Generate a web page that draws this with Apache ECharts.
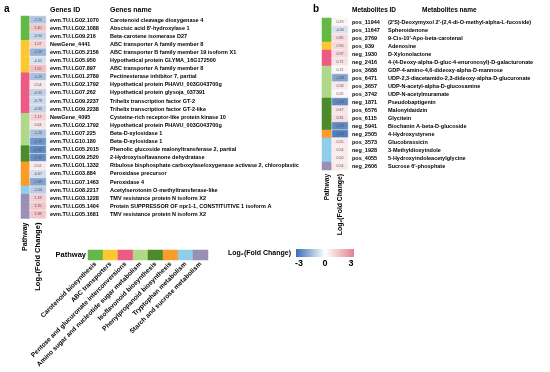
<!DOCTYPE html>
<html><head><meta charset="utf-8">
<script src="https://cdn.jsdelivr.net/npm/echarts@6/dist/echarts.min.js"></script>
<style>html,body{margin:0;padding:0;background:#fff}#c{width:550px;height:372px}</style>
</head><body><div id="c"></div>
<script>
// ---------- data ----------
const pathwayNames = ['Carotenoid biosynthesis','ABC transporters','Pentose and glucuronate interconversions','Amino sugar and nucleotide sugar metabolism','Isoflavonoid biosynthesis','Phenylpropanoid biosynthesis','Tryptophan metabolism','Starch and sucrose metabolism'];
const geneIDs = ['evm.TU.LG02.1070','evm.TU.LG02.1088','evm.TU.LG09.216','NewGene_4441','evm.TU.LG05.2156','evm.TU.LG05.950','evm.TU.LG07.897','evm.TU.LG01.2789','evm.TU.LG02.1792','evm.TU.LG07.262','evm.TU.LG09.2237','evm.TU.LG09.2238','NewGene_4095','evm.TU.LG02.1792','evm.TU.LG07.225','evm.TU.LG10.180','evm.TU.LG05.2015','evm.TU.LG09.2520','evm.TU.LG01.1332','evm.TU.LG03.884','evm.TU.LG07.1463','evm.TU.LG08.2217','evm.TU.LG03.1228','evm.TU.LG05.1404','evm.TU.LG05.1681'];
const geneNames = ['Carotenoid cleavage dioxygenase 4','Abscisic acid 8\'-hydroxylase 1','Beta-carotene isomerase D27','ABC transporter A family member 8','ABC transporter B family member 19 isoform X1','Hypothetical protein GLYMA_16G172500','ABC transporter A family member 8','Pectinesterase inhibitor 7, partial','Hypothetical protein PHAVU_003G043700g','Hypothetical protein glysoja_037391','Trihelix transcription factor GT-2','Trihelix transcription factor GT-2-like','Cysteine-rich receptor-like protein kinase 10','Hypothetical protein PHAVU_003G043700g','Beta-D-xylosidase 1','Beta-D-xylosidase 1','Phenolic glucoside malonyltransferase 2, partial','2-Hydroxyisoflavanone dehydratase','Ribulose bisphosphate carboxylase/oxygenase activase 2, chloroplastic','Peroxidase precursor','Peroxidase 4','Acetylserotonin O-methyltransferase-like','TMV resistance protein N isoform X2','Protein SUPPRESSOR OF npr1-1, CONSTITUTIVE 1 isoform A','TMV resistance protein N isoform X2'];
const genePathway = [0,0,0,1,1,1,1,2,2,2,2,2,3,3,3,3,4,4,5,5,5,6,7,7,7];
const geneFC = [-1.20,1.40,-0.90,1.07,-1.59,-0.62,1.55,-1.29,0.54,-0.95,-0.78,-0.86,1.12,0.64,-1.26,-2.19,-2.43,-2.33,0.52,-0.67,-1.89,-1.04,1.18,1.35,1.38];

const metIDs = ['pos_11944','pos_11647','pos_2769','pos_939','neg_1930','neg_2416','pos_3688','pos_6471','pos_3657','pos_3742','neg_1871','pos_6576','pos_6115','neg_5941','neg_2505','pos_3573','neg_1928','pos_4055','neg_2606'];
const metNames = ['(2\'S)-Deoxymyxol 2\'-(2,4-di-O-methyl-alpha-L-fucoside)','Spheroidenone','9-Cis-10\'-Apo-beta-carotenal','Adenosine','D-Xylonolactone','4-(4-Deoxy-alpha-D-gluc-4-enuronosyl)-D-galacturonate','GDP-4-amino-4,6-dideoxy-alpha-D-mannose','UDP-2,3-diacetamido-2,3-dideoxy-alpha-D-glucuronate','UDP-N-acetyl-alpha-D-glucosamine','UDP-N-acetylmuramate','Pseudobaptigenin','Malonyldaidzin','Glycitein','Biochanin A-beta-D-glucoside','4-Hydroxystyrene','Glucobrassicin','3-Methyldioxyindole','5-Hydroxyindoleacetylglycine','Sucrose 6\'-phosphate'];
const metPathway = [0,0,0,1,2,2,3,3,3,3,4,4,4,4,5,6,6,6,7];
const metFC = [0.29,-0.60,0.85,0.90,0.97,0.71,0.21,-1.88,0.58,0.25,-2.44,0.67,0.81,-2.42,-2.66,0.55,0.54,0.50,0.54];
const fcTicks = [-3,0,3];

// ---------- styles ----------
const pathwayColors = ['#62b946','#fdc82f','#ec5b84','#afd88a','#4b8b2b','#f99d2a','#8fcdea','#9a8fb6'];
const fcColors = ['#3a6db4','#ffffff','#e3838e'];
const FONT = '"Liberation Sans", Arial, Helvetica, sans-serif';

const chart = echarts.init(document.getElementById('c'), null, {renderer:'canvas'});
const hidden = {axisLine:{show:false}, axisTick:{show:false}, splitLine:{show:false}};
const idx = arr => arr.map((_, i) => String(i));

function colX(grid, name, fs) {
  return Object.assign({type:'category', gridIndex:grid, data:[name],
    axisLabel:{rotate:90, fontSize:fs, fontWeight:'bold', color:'#000', margin:4, fontFamily:FONT}}, hidden);
}
function rowY(grid, ids, names, showLabels, idWidth, fs) {
  return Object.assign({type:'category', gridIndex:grid, inverse:true, data:idx(ids), position:'right',
    axisLabel: showLabels ? {show:true, interval:0, margin:4, align:'left', fontFamily:FONT,
      formatter:(v) => `{id|${ids[+v]}}{nm|${names[+v]}}`,
      rich:{id:{width:idWidth, fontSize:fs, fontWeight:'bold', color:'#000', fontFamily:FONT},
            nm:{fontSize:fs, fontWeight:'bold', color:'#000', fontFamily:FONT}}} : {show:false}}, hidden);
}

const rowA = 8.1, rowB = 8.0;
const topA = 16, topB = 18;

const fcLabel = {show:true, formatter:p => p.value[2].toFixed(2), fontSize:3.6, color:'#555', fontFamily:FONT};

const gradX0 = 296, gradW = 58;

chart.setOption({
  animation:false,
  textStyle:{fontFamily:FONT},
  grid:[
    {left:21, top:topA, width:9, height:rowA*geneIDs.length},
    {left:30, top:topA, width:16, height:rowA*geneIDs.length},
    {left:322, top:topB, width:10, height:rowB*metIDs.length},
    {left:332, top:topB, width:16, height:rowB*metIDs.length},
    {left:88, top:250, width:120, height:10}
  ],
  xAxis:[
    colX(0,'Pathway',7), colX(1,'Log\u2082(Fold Change)',7.6),
    colX(2,'Pathway',6.5), colX(3,'Log\u2082(Fold Change)',6.8),
    Object.assign({type:'category', gridIndex:4, data:pathwayNames,
      axisLabel:{rotate:45, interval:0, fontSize:6.5, fontWeight:'bold', color:'#000', margin:3, fontFamily:FONT}}, hidden)
  ],
  yAxis:[
    rowY(0, geneIDs, geneNames, false),
    rowY(1, geneIDs, geneNames, true, 60, 5.5),
    rowY(2, metIDs, metNames, false),
    rowY(3, metIDs, metNames, true, 36, 5.5),
    Object.assign({type:'category', gridIndex:4, data:['Pathway'],
      axisLabel:{fontSize:7.5, fontWeight:'bold', color:'#000', margin:2, fontFamily:FONT}}, hidden)
  ],
  visualMap:[
    {type:'piecewise', show:false, seriesIndex:[0,2,4], dimension:2,
     pieces:pathwayColors.map((c,i)=>({value:i, color:c}))},
    {type:'continuous', show:false, seriesIndex:[1,3], dimension:2, min:-3, max:3,
     inRange:{color:fcColors}}
  ],
  series:[
    {type:'heatmap', xAxisIndex:0, yAxisIndex:0, data:genePathway.map((p,i)=>[0,i,p])},
    {type:'heatmap', xAxisIndex:1, yAxisIndex:1, data:geneFC.map((v,i)=>[0,i,v]),
     label:fcLabel, itemStyle:{borderColor:'#fff', borderWidth:0.5}},
    {type:'heatmap', xAxisIndex:2, yAxisIndex:2, data:metPathway.map((p,i)=>[0,i,p])},
    {type:'heatmap', xAxisIndex:3, yAxisIndex:3, data:metFC.map((v,i)=>[0,i,v]),
     label:fcLabel, itemStyle:{borderColor:'#fff', borderWidth:0.5}},
    {type:'heatmap', xAxisIndex:4, yAxisIndex:4, data:pathwayNames.map((_,i)=>[i,0,i])}
  ],
  graphic:[
    {type:'text', left:4, top:4, style:{text:'a', font:'bold 10px '+FONT, fill:'#000'}},
    {type:'text', left:50, top:7, style:{text:'Genes ID', font:'bold 7px '+FONT, fill:'#000'}},
    {type:'text', left:110, top:7, style:{text:'Genes name', font:'bold 7px '+FONT, fill:'#000'}},
    {type:'text', left:313, top:4, style:{text:'b', font:'bold 10px '+FONT, fill:'#000'}},
    {type:'text', left:352, top:7, style:{text:'Metabolites ID', font:'bold 6.5px '+FONT, fill:'#000'}},
    {type:'text', left:422, top:7, style:{text:'Metabolites name', font:'bold 6.5px '+FONT, fill:'#000'}},
    {type:'text', left:228, top:250, style:{text:'Log\u2082(Fold Change)', font:'bold 7px '+FONT, fill:'#000'}},
    {type:'rect', shape:{x:gradX0, y:249, width:gradW, height:8},
     style:{fill:new echarts.graphic.LinearGradient(0,0,1,0,[
       {offset:0,color:fcColors[0]},{offset:0.5,color:fcColors[1]},{offset:1,color:fcColors[2]}])}},
    ...fcTicks.map(t => ({type:'text', x:gradX0+3+(t+3)/6*(gradW-6), y:259,
      style:{text:String(t), font:'bold 9px '+FONT, fill:'#000', align:'center', verticalAlign:'top'}}))
  ]
});
</script></body></html>
